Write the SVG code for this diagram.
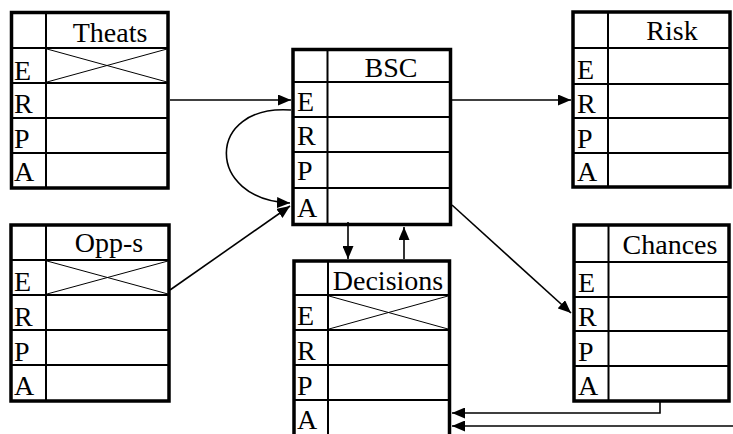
<svg xmlns="http://www.w3.org/2000/svg" width="733" height="434" viewBox="0 0 733 434">
<defs>
<style>
.outer{fill:#fff;stroke:#000;stroke-width:3.5}
.ln{stroke:#000;stroke-width:2;fill:none}
.x{stroke:#000;stroke-width:1;fill:none}
.h{text-anchor:middle}
.c{stroke:#000;stroke-width:1.6;fill:none;marker-end:url(#ah)}
text{font-family:'Liberation Serif','DejaVu Serif','Noto Serif',serif;font-size:28px;fill:#000}
</style>
<marker id="ah" markerUnits="userSpaceOnUse" markerWidth="13" markerHeight="11" refX="13" refY="5.5" orient="auto">
<path d="M0,0 L13,5.5 L0,11 z" fill="#000"/>
</marker>
</defs>
<rect width="733" height="434" fill="#fff"/>

<g id="theats">
<rect class="outer" x="11.5" y="12.5" width="156.5" height="175.5"/>
<path class="ln" d="M46,12.5 V188 M11.5,48 H168 M11.5,83 H168 M11.5,118 H168 M11.5,153 H168"/>
<path class="x" d="M47,49 L167,82 M47,82 L167,49"/>
<text class="h" x="110" y="42">Theats</text>
<text x="14" y="80">E</text>
<text x="14" y="113">R</text>
<text x="14" y="148">P</text>
<text x="14" y="181">A</text>
</g>

<g id="opps">
<rect class="outer" x="11" y="225" width="158" height="176"/>
<path class="ln" d="M46,225 V401 M11,260 H169 M11,295 H169 M11,330 H169 M11,365 H169"/>
<path class="x" d="M47,261 L168,294 M47,294 L168,261"/>
<text class="h" x="109" y="252">Opp-s</text>
<text x="14" y="291">E</text>
<text x="14" y="326">R</text>
<text x="14" y="361">P</text>
<text x="14" y="395">A</text>
</g>

<g id="bsc">
<rect class="outer" x="293" y="49.5" width="157.5" height="175"/>
<path class="ln" d="M327.5,49.5 V224.5 M293,82 H450.5 M293,117 H450.5 M293,152 H450.5 M293,188 H450.5"/>
<text class="h" x="391" y="77">BSC</text>
<text x="297" y="111">E</text>
<text x="297" y="145">R</text>
<text x="297" y="180">P</text>
<text x="297" y="217">A</text>
</g>

<g id="risk">
<rect class="outer" x="573" y="12" width="157" height="175"/>
<path class="ln" d="M608,12 V187 M573,48 H730 M573,84 H730 M573,118 H730 M573,153 H730"/>
<text class="h" x="672" y="40">Risk</text>
<text x="577" y="79">E</text>
<text x="577" y="113">R</text>
<text x="577" y="148">P</text>
<text x="577" y="181">A</text>
</g>

<g id="chances">
<rect class="outer" x="574" y="225" width="155" height="176"/>
<path class="ln" d="M608.5,225 V401 M574,262 H729 M574,297 H729 M574,331 H729 M574,366 H729"/>
<text class="h" x="670" y="254">Chances</text>
<text x="578" y="292">E</text>
<text x="578" y="326">R</text>
<text x="578" y="361">P</text>
<text x="578" y="395">A</text>
</g>

<g id="decisions">
<rect class="outer" x="294" y="261" width="155.5" height="185"/>
<path class="ln" d="M328,261 V446 M294,295 H449.5 M294,330 H449.5 M294,365 H449.5 M294,400 H449.5"/>
<path class="x" d="M329,296 L448,329 M329,329 L448,296"/>
<text class="h" x="388" y="290">Decisions</text>
<text x="297" y="325">E</text>
<text x="297" y="360">R</text>
<text x="297" y="395">P</text>
<text x="297" y="429">A</text>
</g>

<g id="connectors">
<path class="c" d="M170,100 H291"/>
<path class="c" d="M452,100 H571"/>
<path class="c" d="M291,110 C205,104 205,200 290,203"/>
<path class="c" d="M170,290 L290,206"/>
<path class="c" d="M348,222 V259"/>
<path class="c" d="M404,259 V227"/>
<path class="c" d="M452,205 L571,313"/>
<path class="c" d="M660,402 V413 H452"/>
<path class="c" d="M733,426 H452"/>
</g>
</svg>
